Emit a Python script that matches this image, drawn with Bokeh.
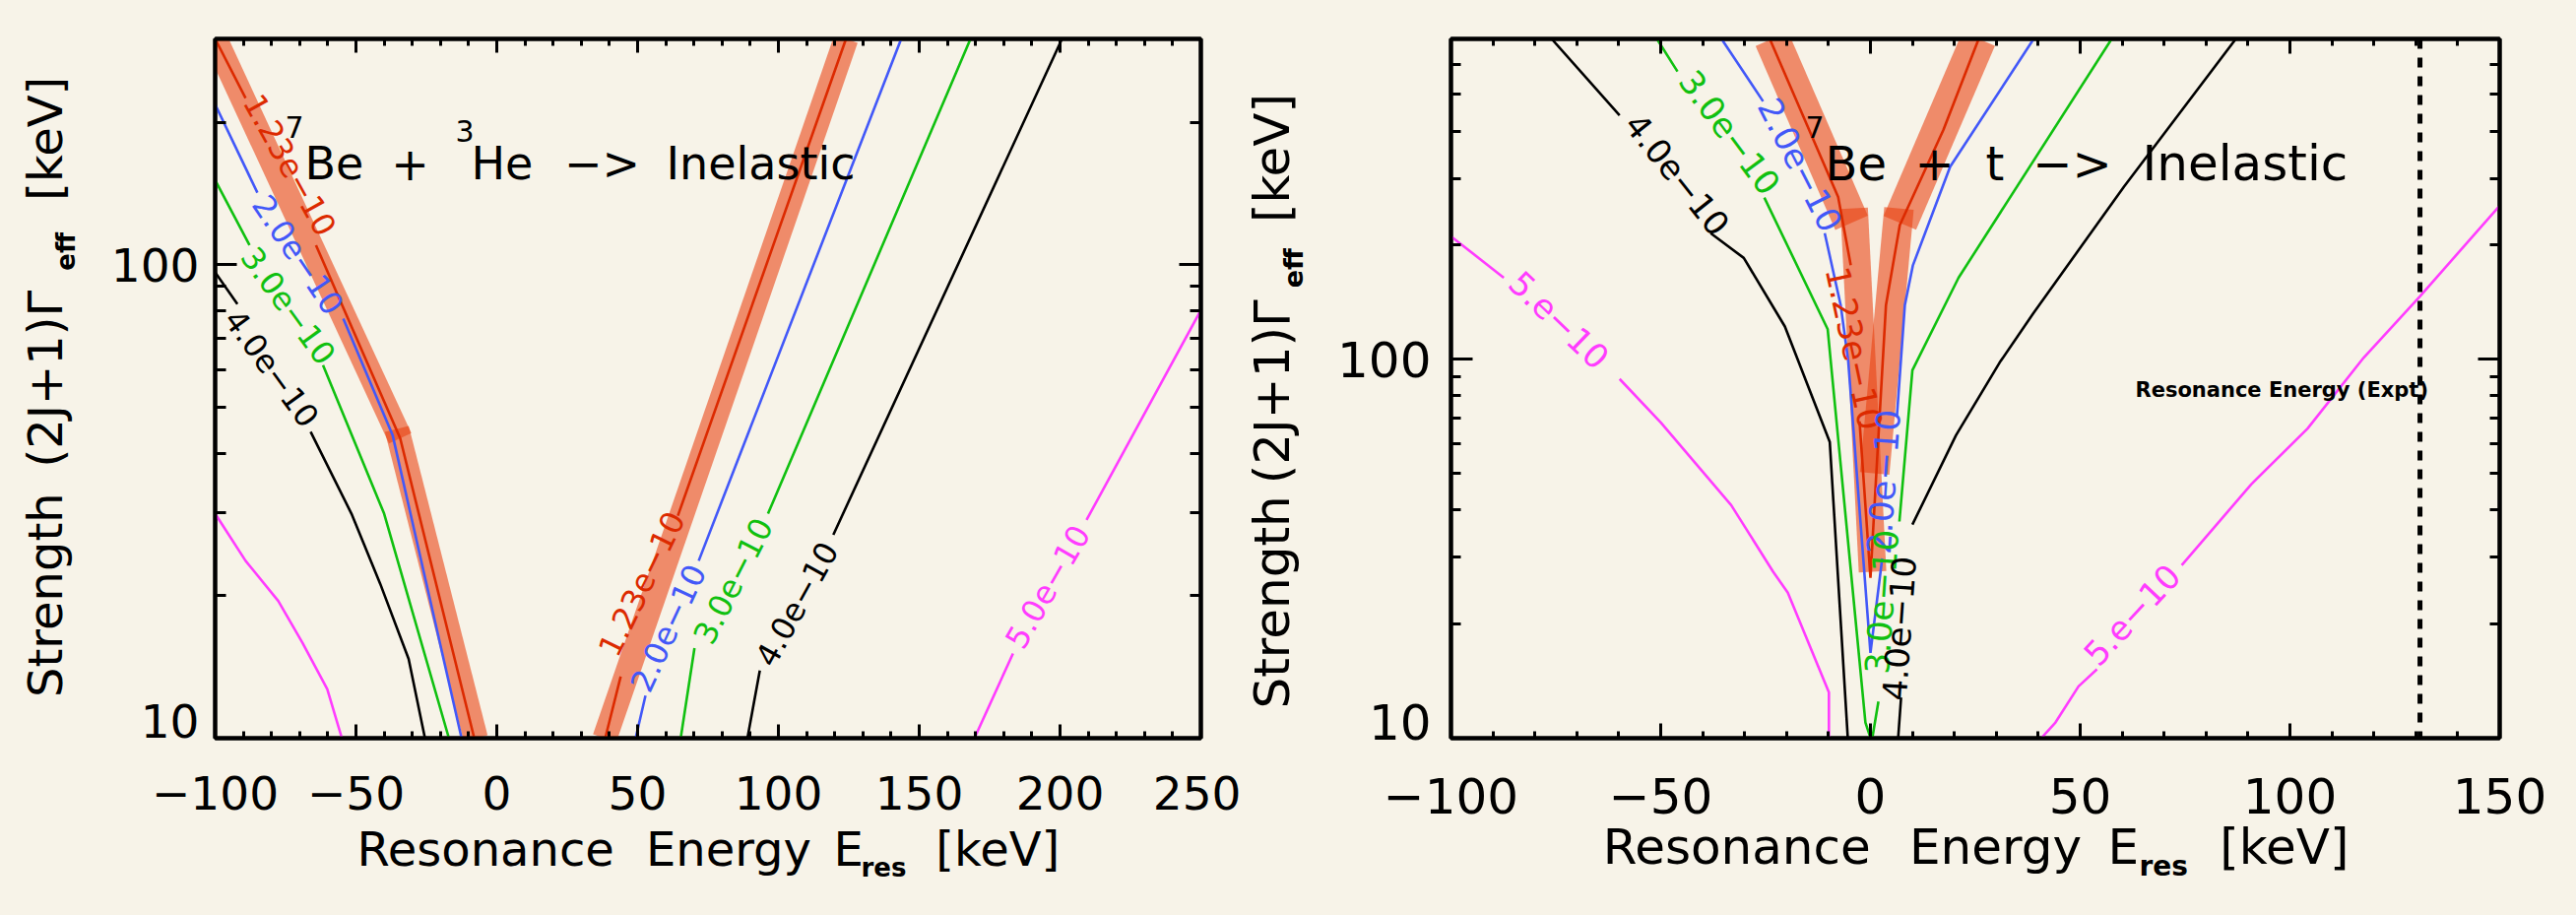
import math
import numpy as np
from bokeh.plotting import figure
from bokeh.models import (Range1d, FixedTicker, LinearAxis, LogAxis, Label, Span,
                          CustomJSTickFormatter, ColumnDataSource)
from bokeh.layouts import row
from bokeh.embed import file_html
from bokeh.resources import INLINE
from bokeh.core.properties import value

nan = float("nan")
BG = "#F7F3E8"
FONT = "DejaVu Sans"
BLACK = "#000000"
GREEN = "#10C010"
BLUE = "#4258F8"
MAGENTA = "#FF3CFF"
RED = "#DC2A00"
BAND = "#E8400F"
PAGE_W, PAGE_H = 2616, 929

# ---------------- data: left panel (7Be + 3He) ----------------
he_xlim = (-100, 250)
he_ylim = (10, 300)
he_red_L_x = [-100, -89.2, nan, -64.2, -34.3, -8.0]
he_red_L_y = [300, 225, nan, 110, 43, 10]
he_red_R_x = [38.5, 44.0, nan, 64.3, 124.0]
he_red_R_y = [10, 13.5, nan, 29.5, 300]
he_blue_L_x = [-100, -85.0, nan, -54.5, -37.0, -12.5]
he_blue_L_y = [218, 142, nan, 77, 43.7, 10]
he_blue_R_x = [49.3, 52.8, nan, 71.7, 143.6]
he_blue_R_y = [10, 12.3, nan, 23.7, 300]
he_green_L_x = [-100, -87.8, nan, -61.7, -40.0, -17.0]
he_green_L_y = [151, 110, nan, 61.4, 29.8, 10]
he_green_R_x = [65.3, 70.2, nan, 96.3, 168.2]
he_green_R_y = [10, 15.5, nan, 29.8, 300]
he_black_L_x = [-100, -92.1, nan, -66.1, -51.6, -41.4, -31.3, -25.5]
he_black_L_y = [96.4, 82.6, nan, 44.4, 29.8, 21.2, 14.7, 10]
he_black_R_x = [89.0, 93.4, nan, 119.5, 200.7]
he_black_R_y = [10, 13.9, nan, 26.9, 300]
he_mag_L_x = [-100, -89.2, -77.6, -69.0, -60.2, -55.0]
he_mag_L_y = [29.8, 23.7, 19.5, 15.9, 12.7, 10]
he_mag_R_x = [169.6, 183.3, nan, 209.4, 250]
he_mag_R_y = [10, 15.1, nan, 28.9, 80.2]
he_band_x = [[-100, -34.3], [-35.5, -7.5], [38.3, 124.0]]
he_band_y = [[300, 43], [45, 10], [10, 300]]
he_lab_text = ["1.23e\u221210", "2.0e\u221210", "3.0e\u221210", "4.0e\u221210",
               "1.23e\u221210", "2.0e\u221210", "3.0e\u221210", "4.0e\u221210", "5.0e\u221210"]
he_lab_x = [-73.4, -70.5, -74.0, -79.9, 51.4, 60.8, 83.9, 106.5, 195.6]
he_lab_y = [162.6, 105, 82, 60.5, 21.2, 17.1, 21.5, 19.2, 20.9]
he_lab_ang = [-61, -56, -54, -54, 64, 65, 63, 61, 60]
he_lab_col = [RED, BLUE, GREEN, BLACK, RED, BLUE, GREEN, BLACK, MAGENTA]

# ---------------- data: right panel (7Be + t) ----------------
t_xlim = (-100, 150)
t_ylim = (10, 700)
t_black_L_x = [-76, -59.8, nan, -38.1, -30.2, -20.4, -9.7, -5.4]
t_black_L_y = [700, 440, nan, 215, 185, 122, 60.5, 10]
t_black_R_x = [6.6, 7.3, nan, 10.0, 20.4, 30.8, 38.8, 60.4, 87.1]
t_black_R_y = [10, 12.8, nan, 36.6, 63, 98, 132, 285, 700]
t_green_L_x = [-50.9, -46.0, nan, -25.3, -10.2, -1.2, 0.3]
t_green_L_y = [700, 574, nan, 267, 120, 11, 9.8]
t_green_R_x = [0.3, 1.9, nan, 6.9, 10.0, 21.0, 57.5]
t_green_R_y = [9.8, 12.5, nan, 37.3, 93.5, 164, 700]
t_blue_x = [-35.5, -25.6, nan, -10.9, -7.1, -5.3, 0.0, 2.8, nan, 6.3, 8.2, 10.1, 19.0, 38.9]
t_blue_y = [700, 479, nan, 215, 139, 98.9, 16.8, 29.8, nan, 70.5, 139, 176.6, 322, 700]
t_red_x = [-24, -7.7, -4.7, nan, -2.6, 0.0, 1.4, 3.7, 7.0, 17.4, 25.8]
t_red_y = [700, 268, 177, nan, 68.5, 26.5, 50, 139, 226, 403, 700]
t_mag_L_x = [-100, -87.4, nan, -59.8, -49.9, -33.2, -23.2, -19.7, -9.9, -9.9]
t_mag_L_y = [211, 164, nan, 88.7, 67.9, 41.2, 27.5, 24.2, 13.2, 10]
t_mag_R_x = [40.7, 44.1, 49.6, 54.0, nan, 74.2, 90.8, 104.2, 117.6, 131.0, 150.0]
t_mag_R_y = [10, 11.0, 13.7, 15.2, nan, 28.6, 46.8, 65.6, 101, 146.6, 254]
t_band_x = [[-23.5, -4.5], [-3.9, 0.5], [25.8, 7.0], [6.8, 1.0]]
t_band_y = [[700, 229], [250, 27.5], [700, 229], [250, 50]]
t_band_w = [36, 28, 36, 30]
t_lab_text = ["4.0e\u221210", "3.0e\u221210", "2.0e\u221210", "1.23e\u221210",
              "2.0e\u221210", "3.0e\u221210", "4.0e\u221210", "5.e\u221210", "5.e\u221210"]
t_lab_x = [-46.0, -33.5, -16.7, -3.8, 3.05, 2.6, 6.8, -74.2, 62.3]
t_lab_y = [307.6, 397, 326, 107, 47.5, 22.9, 19.5, 127, 21.2]
t_lab_ang = [-51.5, -53.6, -63, -78, 86, 86, 86, -44, 47]
t_lab_col = [BLACK, GREEN, BLUE, RED, BLUE, GREEN, BLACK, MAGENTA, MAGENTA]
expt_energy = 131.0

x_major_he = list(range(-100, 251, 50))
x_major_t = list(range(-100, 151, 50))
y_major = [10, 100]
y_major_labels = ["10", "100"]
y_minor_he = [20, 30, 40, 50, 60, 70, 80, 90, 200, 300]
y_minor_t = [20, 30, 40, 50, 60, 70, 80, 90, 200, 300, 400, 500, 600, 700]

LABEL_FMT = CustomJSTickFormatter(code="return tick < 0 ? '\u2212' + Math.abs(tick) : '' + tick;")
EMPTY_FMT = CustomJSTickFormatter(code="return '';")

# approximate DejaVu Sans advance widths (em) used to centre title words
ADV = {"R": .695, "e": .615, "s": .521, "o": .612, "n": .634, "a": .613, "c": .550,
       "E": .632, "r": .411, "g": .635, "y": .592, "[": .390, "k": .579, "V": .684, "]": .390,
       "S": .635, "t": .392, "h": .634, "(": .390, ")": .390, "2": .636, "J": .295, "+": .838,
       "1": .636, "\u0393": .557}
ADV_B = {"r": .493, "e": .678, "s": .595, "f": .435}


def width_of(text, size, bold=False):
    tab = ADV_B if bold else ADV
    return sum(tab.get(c, .6) for c in text) * size


def word_axis(p, side, ticks, texts, size, standoff, bold=False, vertical=True):
    """A line-less, tick-less axis whose tick labels are the given texts at the given positions."""
    order = sorted(range(len(ticks)), key=lambda i: ticks[i])
    ticks = [ticks[i] for i in order]
    texts = [texts[i] for i in order]
    cls = LinearAxis if side == "below" else LogAxis
    ax = cls(ticker=FixedTicker(ticks=ticks, minor_ticks=[]),
             formatter=CustomJSTickFormatter(args=dict(labels=texts, vals=ticks),
                                             code="const i = vals.indexOf(tick);"
                                                  " return labels[i >= 0 ? i : index];"))
    ax.axis_line_color = None
    ax.major_tick_line_color = None
    ax.minor_tick_line_color = None
    ax.major_tick_in = 0
    ax.major_tick_out = 0
    ax.minor_tick_in = 0
    ax.minor_tick_out = 0
    ax.major_label_standoff = standoff
    ax.major_label_text_font = FONT
    ax.major_label_text_font_size = f"{size}px"
    ax.major_label_text_color = "black"
    ax.major_label_text_font_style = "bold" if bold else "normal"
    if side == "left" and vertical:
        ax.major_label_orientation = "vertical"
    p.add_layout(ax, side)


def make_panel(width, height, bl, br, bt, bb, xlim, ylim, xmaj, ymin, fs,
               xt_maj, xt_min, yt_maj, yt_min, xstand, ystand, y10_label_at):
    p = figure(width=width, height=height, x_range=Range1d(*xlim), y_range=Range1d(*ylim),
               y_axis_type="log", output_backend="svg", toolbar_location=None,
               min_border_left=bl, min_border_right=br, min_border_top=bt, min_border_bottom=bb,
               background_fill_color=BG, border_fill_color=BG,
               outline_line_color="black", outline_line_width=4)
    p.grid.visible = False
    xminor = [v for v in range(xlim[0], xlim[1] + 1, 10) if v % 50 != 0]
    xt = FixedTicker(ticks=xmaj, minor_ticks=xminor)
    yt = FixedTicker(ticks=y_major, minor_ticks=ymin)
    bx = p.xaxis[0]
    ly = p.yaxis[0]
    tx = LinearAxis()
    ry = LogAxis()
    p.add_layout(tx, "above")
    p.add_layout(ry, "right")
    for ax, t, tmaj, tmin in ((bx, xt, xt_maj, xt_min), (tx, xt, xt_maj, xt_min),
                              (ly, yt, yt_maj, yt_min), (ry, yt, yt_maj, yt_min)):
        ax.ticker = t
        ax.axis_line_width = 4
        ax.axis_line_color = "black"
        ax.major_tick_in = tmaj
        ax.major_tick_out = 0
        ax.minor_tick_in = tmin
        ax.minor_tick_out = 0
        ax.major_tick_line_width = 3
        ax.minor_tick_line_width = 3
        ax.major_label_text_font = FONT
        ax.major_label_text_color = "black"
    bx.formatter = LABEL_FMT
    bx.major_label_standoff = xstand
    bx.major_label_text_font_size = fs
    for ax in (tx, ry, ly):
        ax.formatter = EMPTY_FMT
        ax.major_label_standoff = 0
        ax.major_label_text_font_size = "0px"
    # y tick labels: "100" centred on its tick, "10" lifted off the bottom edge (as in the original)
    word_axis(p, "left", [y10_label_at, y_major[1]], y_major_labels, int(fs[:-2]), ystand,
              vertical=False)
    return p


def x_title(p, cvx, pieces, size, standoff, bold=False):
    ticks = [cvx(px + width_of(t, size, bold) / 2) for px, t in pieces]
    word_axis(p, "below", ticks, [t for _, t in pieces], size, standoff, bold)


def y_title(p, cvy, pieces, size, standoff, bold=False):
    # pieces: (page y where the upward-running word starts, word)
    ticks = [cvy(py - width_of(t, size, bold) / 2) for py, t in pieces]
    word_axis(p, "left", ticks, [t for _, t in pieces], size, standoff, bold)


def draw_lines(p, pairs, width=2.6):
    for xs, ys, c in pairs:
        p.line(np.array(xs, dtype=float), np.array(ys, dtype=float), line_color=c, line_width=width)


def draw_bands(p, bx, by, widths):
    for xs, ys, w in zip(bx, by, widths):
        p.line(xs, ys, line_color=BAND, line_alpha=0.58, line_width=w, line_cap="butt")


def draw_labels(p, txt, xs, ys, ang, col, size):
    src = ColumnDataSource(dict(x=xs, y=ys, text=txt, angle=ang, color=col))
    p.text(x="x", y="y", text="text", angle="angle", angle_units="deg", text_color="color",
           source=src, text_font=value(FONT), text_font_size=value(size),
           text_align="center", text_baseline="middle")


def conv(frame, xlim, ylim):
    x0, x1, y0, y1 = frame
    ly0, ly1 = math.log10(ylim[0]), math.log10(ylim[1])

    def fx(px):
        return xlim[0] + (px - x0) / (x1 - x0) * (xlim[1] - xlim[0])

    def fy(py):
        return 10 ** (ly0 + (y1 - py) / (y1 - y0) * (ly1 - ly0))
    return fx, fy


def put(p, cv, px, py, text, size, align="left", base="alphabetic", bold=False):
    fx, fy = cv
    p.add_layout(Label(x=fx(px), y=fy(py), text=text, text_font=FONT, text_font_size=size,
                       text_align=align, text_baseline=base, text_color="black",
                       text_font_style="bold" if bold else "normal"))


# ================= left panel: page x 0..1260 =================
cv1 = conv((218, 1219, 39, 749), he_xlim, he_ylim)
p1 = make_panel(1260, PAGE_H, 218, 41, 39, 180, he_xlim, he_ylim,
                x_major_he, y_minor_he, "47px", 14, 7, 22, 11, 38, 16, cv1[1](731))
draw_bands(p1, he_band_x, he_band_y, [25, 25, 25])
draw_lines(p1, [
    (he_mag_L_x, he_mag_L_y, MAGENTA), (he_mag_R_x, he_mag_R_y, MAGENTA),
    (he_black_L_x, he_black_L_y, BLACK), (he_black_R_x, he_black_R_y, BLACK),
    (he_green_L_x, he_green_L_y, GREEN), (he_green_R_x, he_green_R_y, GREEN),
    (he_blue_L_x, he_blue_L_y, BLUE), (he_blue_R_x, he_blue_R_y, BLUE),
    (he_red_L_x, he_red_L_y, RED), (he_red_R_x, he_red_R_y, RED),
])
draw_labels(p1, he_lab_text, he_lab_x, he_lab_y, he_lab_ang, he_lab_col, "32px")

put(p1, cv1, 289, 117, "7", "30px", base="top")
put(p1, cv1, 309, 165, "Be", "46px")
put(p1, cv1, 416, 165, "+", "46px", align="center")
put(p1, cv1, 462, 121, "3", "30px", base="top")
put(p1, cv1, 478, 165, "He", "46px")
put(p1, cv1, 611, 165, "\u2212>", "46px", align="center")
put(p1, cv1, 676, 165, "Inelastic", "46px")
x_title(p1, cv1[0], [(361, "Resonance"), (655, "Energy"), (846, "E"), (949, "[keV]")], 48, 9)
x_title(p1, cv1[0], [(874, "res")], 26, -27, bold=True)
y_title(p1, cv1[1], [(708, "Strength"), (474, "(2J+1)\u0393"), (204, "[keV]")], 48, 35)
y_title(p1, cv1[1], [(275, "eff")], 26, -67, bold=True)

# ================= right panel: page x 1260..2616 =================
cv2 = conv((1473, 2538, 13, 767), t_xlim, t_ylim)
p2 = make_panel(PAGE_W - 1260, PAGE_H, 213, 78, 13, 162, t_xlim, t_ylim,
                x_major_t, y_minor_t, "50px", 15, 7, 22, 10, 40, 20, cv2[1](749))
draw_bands(p2, t_band_x, t_band_y, t_band_w)
draw_lines(p2, [
    (t_mag_L_x, t_mag_L_y, MAGENTA), (t_mag_R_x, t_mag_R_y, MAGENTA),
    (t_black_L_x, t_black_L_y, BLACK), (t_black_R_x, t_black_R_y, BLACK),
    (t_green_L_x, t_green_L_y, GREEN), (t_green_R_x, t_green_R_y, GREEN),
    (t_blue_x, t_blue_y, BLUE), (t_red_x, t_red_y, RED),
])
draw_labels(p2, t_lab_text, t_lab_x, t_lab_y, t_lab_ang, t_lab_col, "34px")
p2.add_layout(Span(location=expt_energy, dimension="height", line_color="black",
                   line_width=5, line_dash="10 9"))

put(p2, cv2, 1833, 96, "7", "30px", base="top")
put(p2, cv2, 1853, 147, "Be", "48px")
put(p2, cv2, 1964, 147, "+", "48px", align="center")
put(p2, cv2, 2016, 147, "t", "48px")
put(p2, cv2, 2104, 147, "\u2212>", "48px", align="center")
put(p2, cv2, 2175, 147, "Inelastic", "50px")
put(p2, cv2, 2168, 392, "Resonance Energy (Expt)", "21px", bold=True)
x_title(p2, cv2[0], [(1626, "Resonance"), (1938, "Energy"), (2140, "E"), (2253, "[keV]")], 50, 2)
x_title(p2, cv2[0], [(2172, "res")], 28, -29, bold=True)
y_title(p2, cv2[1], [(729, "Strength"), (487, "(2J+1)\u0393"), (208, "[keV]")], 50, 34)
y_title(p2, cv2[1], [(281, "eff")], 27, -69, bold=True)

layout = row(p1, p2, styles={"background-color": BG})
open("out.html", "w").write(file_html(layout, INLINE))
